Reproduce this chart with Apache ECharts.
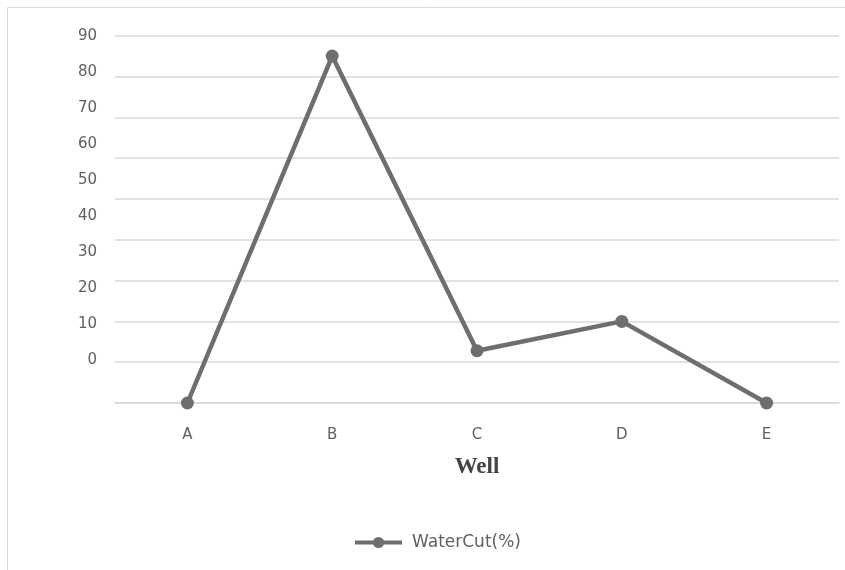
<!DOCTYPE html>
<html>
<head>
<meta charset="utf-8">
<script src="https://cdn.jsdelivr.net/npm/echarts@6/dist/echarts.min.js"></script>
<style>
  html, body { margin: 0; padding: 0; background: #ffffff; }
  #chart { width: 845px; height: 570px; }
</style>
</head>
<body>
<div id="chart"></div>
<script>
// Wells along the horizontal axis
const wells = ['A', 'B', 'C', 'D', 'E'];
// Water cut per well (%)
const waterCut = [0, 85, 12.8, 20, 0];
// Labels printed beside the vertical axis
const tickLabels = [0, 10, 20, 30, 40, 50, 60, 70, 80, 90];

const lineGray = '#6e6e6e';
const textGray = '#606060';
const gridGray = '#d9d9d9';

const chart = echarts.init(document.getElementById('chart'), null, { renderer: 'canvas' });

chart.setOption({
  backgroundColor: '#ffffff',
  animation: false,
  graphic: [{
    type: 'rect',
    silent: true,
    shape: { x: 7.5, y: 7.5, width: 900, height: 700 },
    style: { fill: 'none', stroke: gridGray, lineWidth: 1 }
  }],
  grid: { left: 115, right: 6, top: 35.7, bottom: 167, containLabel: false },
  legend: {
    data: ['WaterCut(%)'],
    left: 348,
    top: 529,
    itemWidth: 47,
    itemHeight: 14,
    lineStyle: { width: 4 },
    textStyle: {
      fontFamily: 'DejaVu Sans',
      fontSize: 17,
      color: textGray,
      padding: [0, 0, 0, 5]
    }
  },
  xAxis: {
    type: 'category',
    data: wells,
    boundaryGap: true,
    name: 'Well',
    nameLocation: 'middle',
    nameGap: 53,
    nameTextStyle: {
      fontFamily: 'Liberation Serif',
      fontWeight: 'bold',
      fontSize: 23,
      color: '#444444'
    },
    axisLine: { show: true, lineStyle: { color: gridGray, width: 1.5 } },
    axisTick: { show: false },
    axisLabel: {
      fontFamily: 'DejaVu Sans',
      fontSize: 15,
      color: textGray,
      margin: 25
    }
  },
  yAxis: [
    {
      // value scale of the plotted line, carrying the gridlines
      type: 'value',
      min: 0,
      max: 90,
      interval: 10,
      axisLine: { show: false },
      axisTick: { show: false },
      axisLabel: { show: false },
      splitLine: { show: true, lineStyle: { color: gridGray, width: 1.5 } }
    },
    {
      // printed tick labels, set a little tighter than the gridlines
      type: 'value',
      position: 'left',
      min: -12,
      max: 90,
      axisLine: { show: false },
      axisTick: { show: false },
      splitLine: { show: false },
      axisLabel: {
        customValues: tickLabels,
        fontFamily: 'DejaVu Sans',
        fontSize: 15,
        color: textGray,
        margin: 18
      }
    }
  ],
  series: [{
    name: 'WaterCut(%)',
    type: 'line',
    yAxisIndex: 0,
    data: waterCut,
    symbol: 'circle',
    symbolSize: 13,
    lineStyle: { color: lineGray, width: 4.5 },
    itemStyle: { color: lineGray }
  }]
});
</script>
</body>
</html>
